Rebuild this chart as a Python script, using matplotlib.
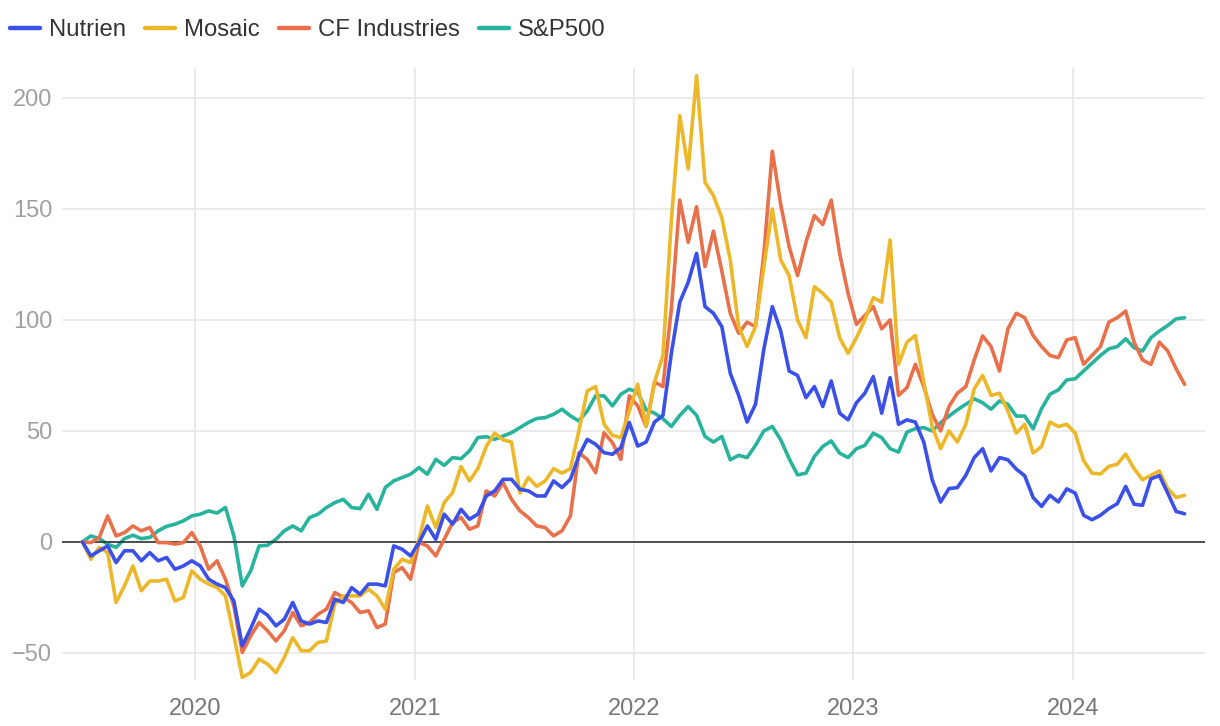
import numpy as np
import pandas as pd
import matplotlib
matplotlib.use("Agg")
from matplotlib import pyplot as plt
import matplotlib.dates as mdates

plt.rcParams['font.family'] = ['Liberation Sans', 'DejaVu Sans']

# fortnightly closes, % change since start
dates = pd.date_range("2019-06-28", periods=132, freq="14D")

nutrien = [0, -6.3, -4, -1.8, -9.3, -4, -4, -8.5, -4.8, -8.5,
           -7, -12.3, -10.8, -8.5, -10.8, -16.8, -19, -20.6, -26.6, -46.8,
           -39, -30.3, -33, -37.8, -34.8, -27.3, -35.6, -37, -35.6, -36.3,
           -25.8, -27.3, -20.6, -23.6, -19, -19, -19.8, -1.8, -3.3, -6.3,
           -0.3, 7.2, 1.2, 12.5, 8, 14.7, 10.2, 12.5, 20.7, 23,
           28.2, 28.2, 23.7, 23, 20.7, 20.7, 27.5, 24.5, 28.2, 38.7,
           46.2, 44, 40.2, 39.5, 42.5, 53.8, 43.2, 45, 54, 57,
           85, 108, 117, 130, 106, 103, 97, 76, 66, 54,
           62, 87, 106, 95, 77, 75, 65, 70, 61, 72.5,
           58, 55, 62.7, 67, 74.5, 58, 74, 53, 55, 54,
           45, 28, 18, 24, 24.5, 30, 38, 42, 32, 38,
           37, 32.8, 29.8, 20, 16, 21, 18, 23.9, 22, 12,
           10, 12, 15, 17.2, 25, 17, 16.5, 28.4, 29.9, 22,
           13.7, 12.7]

mosaic = [0, -7.8, -2.5, -4.8, -27.3, -19.8, -10.8, -22, -17.6, -17.6,
          -16.8, -26.6, -25, -13, -16.8, -19, -20.6, -24.3, -42.3, -61,
          -58.8, -52.8, -55, -58.9, -52, -43.1, -49, -49, -45.3, -44.6,
          -27.9, -24.3, -24.3, -24.3, -21.3, -24.3, -30.3, -12.3, -7.8, -9.3,
          1.2, 16.2, 6.5, 17.7, 22.2, 34, 27.5, 33, 43, 49,
          46, 45, 22, 29, 25, 27.5, 33, 31, 33, 50,
          68, 70, 53, 48, 47, 59, 71, 52, 72, 84,
          145, 192, 168, 210, 162, 156, 146, 127, 97, 88,
          97, 124, 150, 127, 120, 100, 92, 115, 112, 108,
          92, 85, 92, 100, 110, 108, 136, 80, 90, 93,
          72, 52, 42, 50, 45, 53, 69, 75, 66, 67,
          59, 49, 53, 40, 43, 54, 52, 53, 49, 36.6,
          31, 30.6, 34, 35, 39.6, 33, 28, 30, 32, 24,
          20, 21]

cf = [0, -0.3, 2, 11.7, 2.7, 4.2, 7.2, 5, 6.5, -0.3,
      -0.3, -1, -0.3, 4.2, -1.8, -12.3, -8.5, -16.8, -28.8, -49.8,
      -42.3, -36.3, -40, -44.6, -40, -31.8, -37.8, -36.3, -32.6, -30.3,
      -22.8, -25, -27.3, -31.8, -31, -38.6, -37, -13.8, -11.6, -16.8,
      -0.3, -1.8, -6.3, 1.2, 8.7, 11, 5.7, 7.2, 23, 20.7,
      26.7, 19.2, 14, 11, 7.2, 6.5, 2.7, 5, 11.7, 40.2,
      37.2, 31.2, 49.2, 44.7, 37.2, 65.8, 61.3, 52, 72, 70,
      105, 154, 135, 151, 124, 140, 122, 103, 94, 99,
      97, 130, 176, 152, 133, 120, 135, 147, 143, 154,
      130, 112, 98, 102, 106, 96, 100, 66, 69.5, 80,
      70, 57.5, 50, 61, 67, 70, 82, 92.8, 88, 77,
      96, 103, 101, 93, 88, 84, 83, 91, 92, 80,
      84, 88, 99, 101, 104, 90, 82, 80, 90, 86,
      78, 71]

sp500 = [0, 2.7, 1.5, -1, -2.5, 1.5, 3, 1.5, 2, 5,
         7, 8, 9.5, 11.7, 12.5, 14, 13, 15.5, 2.7, -19.8,
         -13, -1.8, -1.5, 1.2, 5, 7.2, 5, 11, 12.5, 15.5,
         17.7, 19.2, 15.5, 15, 21.5, 14.7, 24.5, 27.5, 29, 30.5,
         33.5, 30.5, 37.2, 34.5, 38, 37.5, 41, 47, 47.4, 46.2,
         47.7, 49.2, 51.5, 53.8, 55.6, 56, 57.5, 59.8, 56.8, 54.5,
         59, 65.8, 65.8, 61.3, 66.5, 68.8, 67.5, 59.5, 58, 55.5,
         52, 57, 61, 57, 47.5, 45, 47.5, 37, 39, 38,
         43.5, 50, 52, 46, 37.5, 30.2, 31, 38.5, 43, 45.5,
         40, 38, 42, 43.5, 49, 47, 42, 40.5, 49.5, 51,
         51.5, 50, 53.7, 56.7, 59.5, 62, 64.5, 62.7, 59.8, 63.5,
         62, 56.7, 56.7, 51, 60, 66.5, 68.5, 73, 73.5, 77,
         80.5, 84, 87, 88, 91.5, 87.5, 86, 92, 95, 97.5,
         100.5, 101]

names = ["Nutrien", "Mosaic", "CF Industries", "S&P500"]
colors = ["#3a50e6", "#ecb82a", "#e8704a", "#27b39c"]
series = [nutrien, mosaic, cf, sp500]

fig = plt.figure(figsize=(12.2, 7.26), dpi=100)
ax = fig.add_axes([62/1220, 1 - 680/726, (1205 - 62)/1220, (680 - 68)/726])

lines = []
for k in range(4):
    ln, = ax.plot(dates, series[k], color=colors[k], lw=2.6,
                  solid_joinstyle="round", solid_capstyle="round",
                  zorder=5 - k)
    lines.append(ln)

ax.axhline(0, color="#333333", lw=1.2, zorder=2)

ax.set_xlim(pd.Timestamp("2019-05-25"), pd.Timestamp("2024-08-08"))
ax.set_ylim(-62.2, 213.5)
ax.set_yticks([-50, 0, 50, 100, 150, 200])
ax.xaxis.set_major_locator(mdates.YearLocator())
ax.xaxis.set_major_formatter(mdates.DateFormatter("%Y"))

ax.grid(True, color="#e6e6e6", lw=1.1, zorder=0)
for s in ax.spines.values():
    s.set_visible(False)
ax.tick_params(axis="y", length=0, pad=7, labelsize=17, labelcolor="#a0a0a0")
ax.tick_params(axis="x", length=0, pad=13, labelsize=17, labelcolor="#777777")

fig.legend(lines, names, loc="upper left", bbox_to_anchor=(-0.0075, 1.0),
           ncol=4, frameon=False, fontsize=17.2, handlelength=1.27,
           handletextpad=0.36, columnspacing=0.8, borderpad=0.3,
           labelcolor="#333333")
for h in fig.legends[0].get_lines():
    h.set_linewidth(3.2)

fig.savefig("out.png", dpi=100)
